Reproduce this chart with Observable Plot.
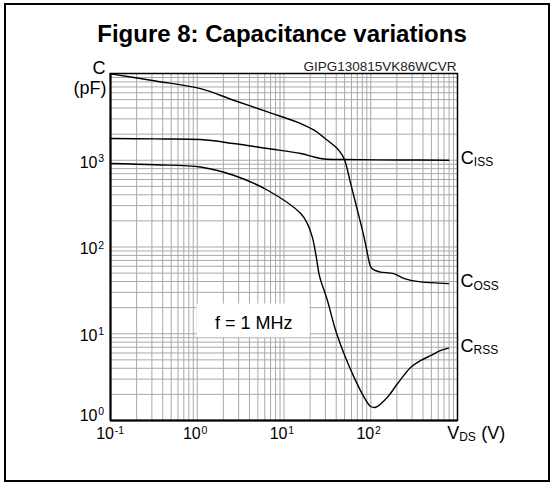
<!DOCTYPE html>
<html><head><meta charset="utf-8">
<script src="https://cdn.jsdelivr.net/npm/d3@7"></script>
<script src="https://cdn.jsdelivr.net/npm/@observablehq/plot@0.6"></script>
<style>
body{margin:0;background:#fff;font-family:"Liberation Sans",Arial,sans-serif;}
#wrap{position:relative;width:554px;height:482px;overflow:hidden;background:#fff;}
#border{position:absolute;left:4px;top:3px;width:546px;height:479px;border:2px solid #000;box-sizing:border-box;pointer-events:none;}
#title{height:50px;box-sizing:border-box;padding-top:22px;padding-left:10px;text-align:center;font-weight:bold;font-size:24px;line-height:24px;color:#000;}
</style></head><body>
<div id="wrap"><div id="title">Figure 8: Capacitance variations</div><div id="chart"></div><div id="border"></div></div>
<script>
// ---- data (V_DS in volts, C in pF) ----
const cissV = [0.1, 0.33, 1.09, 2.62, 6.47, 15.6, 22.2, 28.9, 49.2, 222, 794];
const cissC = [1778, 1762, 1733, 1559, 1364, 1195, 1091, 1035, 1019, 1008, 1000];

const cossV = [0.1, 0.33, 1.09, 2.62, 6.47, 15.6, 22.2, 31.6, 41.3, 47.1, 50.5, 58.7, 70.2, 83.7, 91.6, 100, 110, 130, 184, 240, 290, 378, 787];
const cossC = [9900, 8200, 6700, 4920, 3610, 2650, 2220, 1700, 1360, 1140, 980, 538, 265, 130, 84, 59, 54, 51.4, 49.3, 43.5, 41.2, 39.6, 37.8];

const crssV = [0.1, 0.33, 1.09, 2.62, 6.47, 15.6, 18.6, 21.2, 23.2, 25.3, 26.5, 31.6, 39.4, 49.2, 64.1, 83.7, 100, 114, 156, 203, 290, 378, 492, 643, 787];
const crssC = [916, 887, 837, 671, 451, 243, 186, 130, 84, 49.3, 41.2, 24.3, 10.9, 5.89, 3.16, 1.86, 1.45, 1.42, 1.86, 2.65, 4.12, 4.92, 5.62, 6.42, 6.83];

const seriesSubs = ["ISS", "OSS", "RSS"];

const xTicks = [0.1, 1, 10, 100];
const xTickExp = ["-1", "0", "1", "2"];
const yTicks = [10, 100, 1000];
const yTickExp = ["1", "2", "3"];
const yTickBottom = [1];
const yTickBottomExp = ["0"];

const xDecades = [0.1, 1, 10, 100];
const yDecades = [1, 10, 100, 1000];
const gridSteps = [1, 2, 3, 4, 5, 6, 7, 8, 9];

const noteText = "f = 1 MHz";
const noteBox = {x1: 1, x2: 20, y1: 9, y2: 22};
const figId = "GIPG130815VK86WCVR";

// ---- build tables ----
const seriesList = [[cissV, cissC], [cossV, cossC], [crssV, crssC]];
const rows = seriesList.flatMap(([V, C], s) => V.map((v, i) => ({s: seriesSubs[s], v, c: C[i]})));
const ends = seriesList.map(([V, C], s) => ({sub: seriesSubs[s], v: V[V.length - 1], c: C[C.length - 1]}));
const xGrid = xDecades.flatMap(d => gridSteps.map(k => k * d)).concat([xDecades[xDecades.length - 1] * 10]);
const yGrid = yDecades.flatMap(d => gridSteps.map(k => k * d)).concat([yDecades[yDecades.length - 1] * 10]);

const FONT = "'Liberation Sans', Arial, sans-serif";
const GRID = "#a9a9a9";

const chart = Plot.plot({
  width: 554,
  height: 432,
  marginLeft: 110,
  marginRight: 97,
  marginTop: 23,
  marginBottom: 62,
  style: {fontFamily: FONT, background: "transparent", color: "#000"},
  x: {type: "log", domain: [0.1, 1000], axis: null},
  y: {type: "log", domain: [1, 10000], axis: null},
  marks: [
    Plot.ruleX(xGrid, {x: d => d, stroke: GRID, strokeWidth: 1}),
    Plot.ruleY(yGrid, {y: d => d, stroke: GRID, strokeWidth: 1}),
    Plot.rect([noteBox], {x1: "x1", x2: "x2", y1: "y1", y2: "y2", fill: "#fff"}),
    Plot.text([noteText], {x: Math.sqrt(noteBox.x1 * noteBox.x2), y: Math.sqrt(noteBox.y1 * noteBox.y2), text: d => d, fontSize: 18, textAnchor: "middle", lineAnchor: "middle", dy: 2}),
    Plot.frame({stroke: "#000", strokeWidth: 1.5}),
    Plot.ruleX([0.1], {stroke: "#000", strokeWidth: 2}),
    Plot.ruleY([1], {stroke: "#000", strokeWidth: 2}),
    Plot.line(rows, {x: "v", y: "c", z: "s", curve: "catmull-rom", stroke: "#000", strokeWidth: 1.4}),
    // series labels
    Plot.text(ends, {x: "v", y: "c", text: () => "C", fontSize: 18, textAnchor: "start", lineAnchor: "middle", dx: 12, dy: -2}),
    Plot.text(ends, {x: "v", y: "c", text: "sub", fontSize: 12, textAnchor: "start", lineAnchor: "middle", dx: 25, dy: 2.4}),
    // x tick labels
    Plot.text(xTicks, {x: d => d, frameAnchor: "bottom", text: () => "10", fontSize: 16, textAnchor: "end", lineAnchor: "bottom", dx: 3.5, dy: 18}),
    Plot.text(xTicks, {x: d => d, frameAnchor: "bottom", text: (d, i) => xTickExp[i], fontSize: 10.5, textAnchor: "start", lineAnchor: "bottom", dx: 4.2, dy: 13.5}),
    // y tick labels
    Plot.text(yTicks, {y: d => d, frameAnchor: "left", text: () => "10", fontSize: 16, textAnchor: "end", lineAnchor: "bottom", dx: -13, dy: 7.3}),
    Plot.text(yTicks, {y: d => d, frameAnchor: "left", text: (d, i) => yTickExp[i], fontSize: 10.5, textAnchor: "start", lineAnchor: "bottom", dx: -12.3, dy: 1.5}),
    Plot.text(yTickBottom, {y: d => d, frameAnchor: "left", text: () => "10", fontSize: 16, textAnchor: "end", lineAnchor: "bottom", dx: -13, dy: 0}),
    Plot.text(yTickBottom, {y: d => d, frameAnchor: "left", text: (d, i) => yTickBottomExp[i], fontSize: 10.5, textAnchor: "start", lineAnchor: "bottom", dx: -12.3, dy: -5.5}),
    // axis titles
    Plot.text(["C"], {frameAnchor: "top-left", text: d => d, fontSize: 18, textAnchor: "end", lineAnchor: "bottom", dx: -5, dy: 0}),
    Plot.text(["(pF)"], {frameAnchor: "top-left", text: d => d, fontSize: 18, textAnchor: "end", lineAnchor: "bottom", dx: -4, dy: 20}),
    Plot.text(["V"], {frameAnchor: "bottom-right", text: d => d, fontSize: 18, textAnchor: "start", lineAnchor: "bottom", dx: -10.3, dy: 18}),
    Plot.text(["DS"], {frameAnchor: "bottom-right", text: d => d, fontSize: 12, textAnchor: "start", lineAnchor: "bottom", dx: 1.7, dy: 20.7}),
    Plot.text(["(V)"], {frameAnchor: "bottom-right", text: d => d, fontSize: 18, textAnchor: "start", lineAnchor: "bottom", dx: 23.7, dy: 18}),
    // figure id
    Plot.text([figId], {frameAnchor: "top-right", text: d => d, fontSize: 13.5, textAnchor: "end", lineAnchor: "bottom", dx: -1, dy: -3, fill: "#222"})
  ]
});
document.getElementById("chart").appendChild(chart);
</script>
</body></html>
